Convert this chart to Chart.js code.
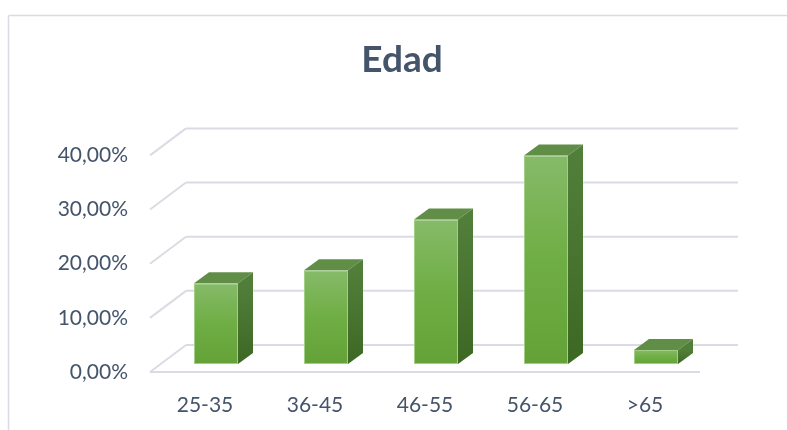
<!DOCTYPE html>
<html>
<head>
<meta charset="utf-8">
<script src="https://cdn.jsdelivr.net/npm/chart.js@4"></script>
<style>
  html, body { margin: 0; padding: 0; background: #fff; }
  .chart-container { position: relative; width: 787px; height: 430px; }
</style>
</head>
<body>
<div class="chart-container">
  <canvas id="chart"></canvas>
</div>
<script>
const categories = ["25-35", "36-45", "46-55", "56-65", ">65"];
const percentages = [14.9, 17.3, 26.7, 38.5, 2.6];
const axisMin = 0;
const axisMax = 40;
const axisStep = 10;

const TEXT = "#44546a";
const GRID = "#d9dce3";
// back wall offset and bar placement inside the depth
const WALL_DX = 36, WALL_DY = -27;
const BAR_DX = 11, BAR_DY = -8;
const SIDE_DX = 15, SIDE_DY = -11;

Chart.defaults.font.family = "Lato";

function line(ctx, x1, y1, x2, y2) {
  ctx.beginPath();
  ctx.moveTo(x1, y1);
  ctx.lineTo(x2, y2);
  ctx.stroke();
}

const depthPlugin = {
  id: "depth",
  beforeDraw(chart) {
    const ctx = chart.ctx;
    const { left, right, bottom } = chart.chartArea;
    const y = chart.scales.y;
    ctx.save();
    // outer frame
    ctx.strokeStyle = GRID;
    ctx.lineWidth = 1.5;
    line(ctx, 8.5, 15.5, 787, 15.5);
    line(ctx, 8.5, 15.5, 8.5, 430);
    // back wall grid and left side diagonals
    ctx.lineWidth = 2;
    y.ticks.forEach((t) => {
      const py = y.getPixelForValue(t.value);
      line(ctx, left + WALL_DX, py + WALL_DY, right + WALL_DX + 2, py + WALL_DY);
      line(ctx, left, py, left + WALL_DX, py + WALL_DY);
    });
    // front edge of floor
    line(ctx, left, bottom, right, bottom);
    ctx.restore();
  },
  beforeDatasetsDraw(chart) {
    chart.ctx.save();
    chart.ctx.translate(BAR_DX, BAR_DY);
  },
  afterDatasetsDraw(chart) {
    const ctx = chart.ctx;
    chart.getDatasetMeta(0).data.forEach((bar) => {
      const l = bar.x - bar.width / 2;
      const r = bar.x + bar.width / 2;
      const t = bar.y;
      const b = bar.base;
      // top face
      ctx.beginPath();
      ctx.moveTo(l, t);
      ctx.lineTo(l + SIDE_DX, t + SIDE_DY);
      ctx.lineTo(r + SIDE_DX, t + SIDE_DY);
      ctx.lineTo(r, t);
      ctx.closePath();
      ctx.fillStyle = "#608e47";
      ctx.fill();
      // right side face
      const g = ctx.createLinearGradient(0, t, 0, b);
      g.addColorStop(0, "#517f3a");
      g.addColorStop(1, "#3d6824");
      ctx.beginPath();
      ctx.moveTo(r, t);
      ctx.lineTo(r + SIDE_DX, t + SIDE_DY);
      ctx.lineTo(r + SIDE_DX, b + SIDE_DY);
      ctx.lineTo(r, b);
      ctx.closePath();
      ctx.fillStyle = g;
      ctx.fill();
    });
    ctx.restore();
  }
};

function frontFill(c) {
  const chart = c.chart;
  if (!chart.chartArea || c.raw === undefined) return "#70ad47";
  const y = chart.scales.y;
  const top = y.getPixelForValue(c.raw);
  const base = y.getPixelForValue(0);
  const g = chart.ctx.createLinearGradient(0, top, 0, base);
  g.addColorStop(0, "#86ba69");
  g.addColorStop(0.5, "#6fae44");
  g.addColorStop(1, "#64a238");
  return g;
}

new Chart(document.getElementById("chart"), {
  type: "bar",
  data: {
    labels: categories,
    datasets: [
      {
        label: "Edad",
        data: percentages,
        backgroundColor: frontFill,
        borderColor: "#a2cf86",
        borderWidth: 1,
        borderSkipped: false,
        categoryPercentage: 1,
        barPercentage: 0.4,
        clip: false,
      },
    ],
  },
  options: {
    responsive: true,
    maintainAspectRatio: false,
    animation: false,
    layout: { padding: { left: 17, right: 0, top: 0, bottom: 0 } },
    plugins: {
      legend: { display: false },
      tooltip: { enabled: false },
      title: {
        display: true,
        text: "Edad",
        color: TEXT,
        font: { size: 37, weight: "bold" },
        padding: { top: 38, bottom: 73 },
      },
    },
    scales: {
      x: {
        grid: { display: false, drawTicks: false },
        border: { display: false },
        ticks: { color: TEXT, font: { size: 21 }, padding: 21, maxRotation: 0 },
        afterFit(scale) { scale.height = 58; },
      },
      y: {
        min: axisMin,
        max: axisMax,
        grid: { display: false, drawTicks: false },
        border: { display: false },
        ticks: {
          stepSize: axisStep,
          color: TEXT,
          font: { size: 21 },
          padding: 22,
          callback: (v) => v.toFixed(2).replace(".", ",") + "%",
        },
        afterFit(scale) { scale.width = 133; },
      },
      // empty axis that only reserves the room right of the plot (depth of the back wall)
      spacer: {
        type: "linear",
        position: "right",
        grid: { display: false, drawTicks: false },
        border: { display: false },
        ticks: { display: false },
        afterFit(scale) { scale.width = 87; },
      },
    },
  },
  plugins: [depthPlugin],
});
</script>
</body>
</html>
